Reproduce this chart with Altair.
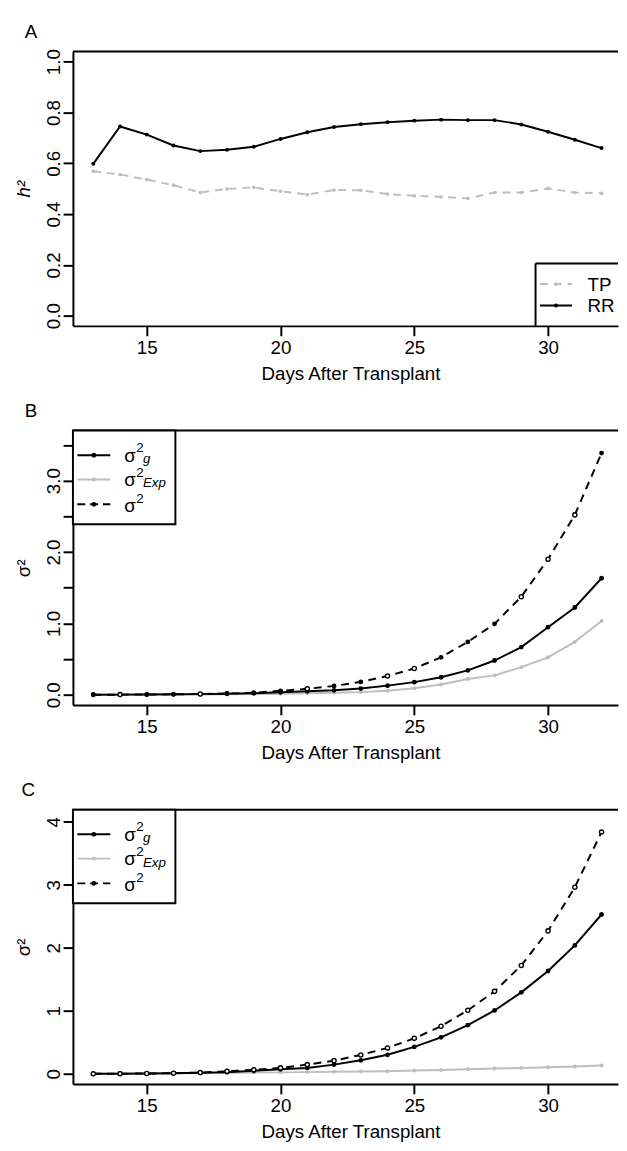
import json
import altair as alt
import pandas as pd

# ---------------- data ----------------
DAYS = list(range(13, 33))

# Panel A: heritability
A_RR = [0.598, 0.745, 0.713, 0.670, 0.648, 0.653, 0.665, 0.696, 0.722, 0.743,
        0.754, 0.762, 0.768, 0.772, 0.770, 0.770, 0.753, 0.724, 0.693, 0.660]
A_TP = [0.569, 0.556, 0.536, 0.514, 0.485, 0.499, 0.505, 0.490, 0.477, 0.495,
        0.494, 0.479, 0.472, 0.468, 0.462, 0.485, 0.485, 0.501, 0.485, 0.482]

# Panel B: variance components
B_G = [0.000, 0.002, 0.004, 0.006, 0.009, 0.014, 0.022, 0.035, 0.048, 0.062,
       0.087, 0.128, 0.177, 0.245, 0.342, 0.480, 0.668, 0.947, 1.223, 1.633]
B_EXP = [0.000, 0.001, 0.002, 0.003, 0.005, 0.007, 0.010, 0.014, 0.020, 0.027,
         0.037, 0.056, 0.092, 0.143, 0.221, 0.272, 0.387, 0.525, 0.741, 1.035]
B_TOT = [0.000, 0.002, 0.003, 0.006, 0.011, 0.018, 0.028, 0.055, 0.083, 0.124,
         0.180, 0.262, 0.368, 0.525, 0.741, 0.994, 1.375, 1.900, 2.521, 3.387]
B_TOT_OPEN_DAYS = [14, 17, 21, 24, 25, 29, 30, 31]

# Panel C: variance components
C_G = [0.000, 0.002, 0.005, 0.010, 0.016, 0.026, 0.048, 0.073, 0.094, 0.146,
       0.214, 0.302, 0.427, 0.579, 0.772, 1.006, 1.293, 1.632, 2.039, 2.529]
C_EXP = [0.000, 0.003, 0.005, 0.008, 0.011, 0.015, 0.019, 0.023, 0.027, 0.032,
         0.037, 0.042, 0.052, 0.062, 0.072, 0.083, 0.094, 0.104, 0.115, 0.131]
C_TOT = [0.000, 0.002, 0.005, 0.010, 0.020, 0.040, 0.063, 0.094, 0.146, 0.209,
         0.300, 0.411, 0.563, 0.756, 1.008, 1.309, 1.721, 2.269, 2.962, 3.838]
C_TOT_OPEN_DAYS = DAYS

X_TICKS = [15, 20, 25, 30]
X_TITLE = "Days After Transplant"
Y_TICKS_A = [0.0, 0.2, 0.4, 0.6, 0.8, 1.0]
Y_TICKS_B = [0.0, 0.5, 1.0, 1.5, 2.0, 2.5, 3.0, 3.5]
Y_TICKS_C = [0, 1, 2, 3, 4]

# ---------------- styling ----------------
FONT = "Liberation Sans"
FS = 19
SUP = 13.5
W = 553.2
H = 278.4
X_DOMAIN = [12.24, 32.615]
GRAY = "#bebebe"
DASH = [8, 6]

dummy = pd.DataFrame({"k": [0]})


def x_enc():
    return alt.X("day:Q", scale=alt.Scale(domain=X_DOMAIN, nice=False, zero=False),
                 axis=alt.Axis(values=X_TICKS, title=X_TITLE, format="d"))


def y_enc(domain, ticks, title, label_expr=None, italic=False):
    ax = dict(values=ticks, title=title,
              titleFontStyle="italic" if italic else "normal")
    if label_expr:
        ax["labelExpr"] = label_expr
    return alt.Y("v:Q", scale=alt.Scale(domain=domain, nice=False, zero=False),
                 axis=alt.Axis(**ax))


def series(values, yenc, color, dash, size, open_days=None):
    df = pd.DataFrame({"day": DAYS, "v": values})
    base = alt.Chart(df).encode(x=x_enc(), y=yenc)
    kw = dict(color=color, strokeWidth=2)
    if dash:
        kw["strokeDash"] = dash
    layers = [base.mark_line(**kw)]
    if open_days is None:
        layers.append(base.mark_circle(color=color, size=size, opacity=1))
    else:
        od = json.dumps(list(open_days))
        layers.append(base.transform_filter(f"indexof({od}, datum.day) < 0")
                      .mark_circle(color=color, size=size, opacity=1))
        layers.append(base.transform_filter(f"indexof({od}, datum.day) >= 0")
                      .mark_point(shape="circle", filled=True, fill="white",
                                  stroke=color, strokeWidth=1.4, size=18, opacity=1))
    return layers


def txt(s, x, y, size=FS, italic=False):
    return alt.Chart(dummy).mark_text(
        text=s, align="left", baseline="alphabetic", font=FONT, fontSize=size,
        fontStyle="italic" if italic else "normal", color="black"
    ).encode(x=alt.value(x), y=alt.value(y))


def hrule(x1, x2, y, color="black", dash=None, width=2):
    kw = dict(color=color, strokeWidth=width)
    if dash:
        kw["strokeDash"] = dash
    return alt.Chart(dummy).mark_rule(**kw).encode(
        x=alt.value(x1), x2=alt.value(x2), y=alt.value(y))


def vrule(x, y1, y2):
    return alt.Chart(dummy).mark_rule(color="black", strokeWidth=2).encode(
        x=alt.value(x), y=alt.value(y1), y2=alt.value(y2))


def dot(x, y, color, size):
    return alt.Chart(dummy).mark_circle(color=color, size=size, opacity=1).encode(
        x=alt.value(x), y=alt.value(y))


def sigma_legend():
    layers = [alt.Chart(dummy).mark_rect(fill="white", stroke="black", strokeWidth=2)
              .encode(x=alt.value(0), x2=alt.value(104), y=alt.value(0), y2=alt.value(95))]
    r1, r2, r3 = 25, 49.7, 74.8
    sx1, sx2, mx = 4.5, 37.9, 21.2
    layers += [hrule(sx1, sx2, r1), dot(mx, r1, "black", 24)]
    layers += [hrule(sx1, sx2, r2, color=GRAY), dot(mx, r2, GRAY, 16)]
    layers += [hrule(sx1, sx2, r3, dash=[8, 5]), dot(mx, r3, "black", 24)]
    tx, sx, bx = 52.2, 64.2, 71.0
    layers += [txt("σ", tx, r1 + 6.5), txt("2", sx, r1 - 3, SUP), txt("g", bx, r1 + 7.5, SUP, True)]
    layers += [txt("σ", tx, r2 + 6.5), txt("2", sx, r2 - 3, SUP), txt("Exp", bx, r2 + 8, SUP, True)]
    layers += [txt("σ", tx, r3 + 8), txt("2", sx, r3 - 1.5, SUP)]
    return layers


def frame_top():
    return hrule(0, W, 0)


# ---------------- Panel A ----------------
yA = y_enc([-0.04, 1.04], Y_TICKS_A, "h²", italic=True)
layersA = []
layersA += series(A_TP, yA, GRAY, DASH, 14)
layersA += series(A_RR, yA, "black", None, 16)
layersA += [frame_top(), txt("A", -48.8, -14)]
# legend A (bottom right)
lx = 469.5
layersA += [hrule(lx, W, 215), vrule(lx, 215, H)]
layersA += [hrule(474, 506.5, 236, color=GRAY, dash=[8, 6]), dot(490.2, 236, GRAY, 14)]
layersA += [hrule(474, 506.5, 257.7), dot(490.2, 257.7, "black", 16)]
layersA += [txt("TP", 522.2, 243.4), txt("RR", 522.2, 264.4)]
panelA = alt.layer(*layersA).properties(width=W, height=H)

# ---------------- Panel B ----------------
yB = y_enc([-0.1424, 3.7024], Y_TICKS_B, "σ²",
           label_expr="datum.value % 1 == 0 ? format(datum.value, '.1f') : ''")
layersB = []
layersB += series(B_EXP, yB, GRAY, None, 16)
layersB += series(B_G, yB, "black", None, 24)
layersB += series(B_TOT, yB, "black", DASH, 24, open_days=B_TOT_OPEN_DAYS)
layersB += [frame_top(), txt("B", -48.8, -14.2)]
layersB += sigma_legend()
panelB = alt.layer(*layersB).properties(width=W, height=H)

# ---------------- Panel C ----------------
yC = y_enc([-0.1613, 4.1935], Y_TICKS_C, "σ²", label_expr="format(datum.value, 'd')")
layersC = []
layersC += series(C_EXP, yC, GRAY, None, 16)
layersC += series(C_G, yC, "black", None, 24)
layersC += series(C_TOT, yC, "black", DASH, 24, open_days=C_TOT_OPEN_DAYS)
layersC += [frame_top(), txt("C", -52.3, -13.4)]
layersC += sigma_legend()
panelC = alt.layer(*layersC).properties(width=W, height=H)

chart = alt.vconcat(panelA, panelB, panelC, spacing=105.7, bounds="flush").properties(
    padding={"left": 5.9, "top": 6.7, "right": 0, "bottom": 0}
).configure(font=FONT).configure_view(stroke=None).configure_axis(
    grid=False, domainColor="black", domainWidth=2, tickColor="black", tickWidth=2,
    tickSize=10, labelFont=FONT, labelFontSize=FS, labelColor="black",
    titleFont=FONT, titleFontSize=FS, titleFontWeight="normal", titleColor="black",
    labelFlush=False, labelOverlap=False
).configure_axisX(
    labelPadding=18, labelBaseline="alphabetic", labelAlign="center",
    titleX=281.7, titleY=54.7, titleAlign="center", titleBaseline="alphabetic"
).configure_axisY(
    labelAngle=270, labelAlign="center", labelBaseline="alphabetic", labelPadding=4,
    titleAngle=270, titleX=-44.3, titleY=H / 2, titleAlign="center",
    titleBaseline="alphabetic"
)

chart.save("out.html", embed_options={"renderer": "svg", "actions": False})
